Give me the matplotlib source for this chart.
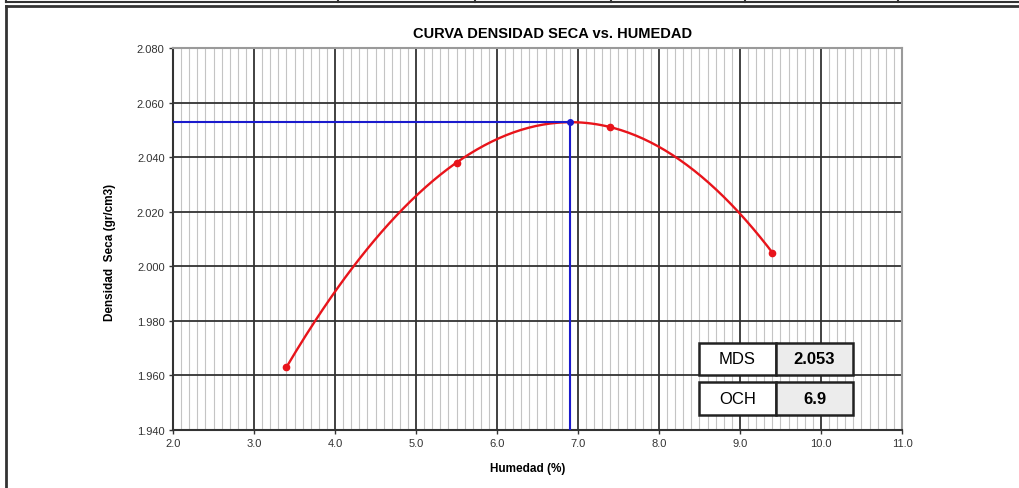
import numpy as np
import matplotlib
matplotlib.use("Agg")
import matplotlib.pyplot as plt
from matplotlib.patches import Rectangle
from matplotlib.lines import Line2D
from matplotlib.ticker import MultipleLocator

# compaction test points
humedad = [3.4, 5.5, 7.4, 9.4]
densidad = [1.963, 2.038, 2.051, 2.005]

# results
mds = 2.053
och = 6.9

x_ticks = [2.0, 3.0, 4.0, 5.0, 6.0, 7.0, 8.0, 9.0, 10.0, 11.0]
y_ticks = [1.940, 1.960, 1.980, 2.000, 2.020, 2.040, 2.060, 2.080]

W, H = 1020, 489
FONT = ["Liberation Sans", "DejaVu Sans"]


def fx(px):
    return px / W


def fy(py):
    return 1 - py / H


def main():
    fig = plt.figure(figsize=(W / 100, H / 100), dpi=100)
    ax = fig.add_axes([fx(173), fy(431), fx(902) - fx(173), fy(49) - fy(431)])

    ax.set_xlim(x_ticks[0], x_ticks[-1])
    ax.set_ylim(y_ticks[0], y_ticks[-1])
    ax.set_xticks(x_ticks)
    ax.set_yticks(y_ticks)
    ax.set_xticklabels([f"{v:.1f}" for v in x_ticks])
    ax.set_yticklabels([f"{v:.3f}" for v in y_ticks])
    ax.xaxis.set_minor_locator(MultipleLocator(0.1))
    ax.tick_params(which="major", length=3, width=1, color="#333333",
                   labelsize=8, labelcolor="#333333", pad=3)
    ax.tick_params(which="minor", length=0)
    for lab in ax.get_xticklabels() + ax.get_yticklabels():
        lab.set_family(FONT)

    ax.grid(which="major", color="#333333", lw=1.3)
    ax.grid(which="minor", axis="x", color="#c4c4c4", lw=0.8)
    ax.set_axisbelow(True)
    for s in ["left", "bottom"]:
        ax.spines[s].set_color("#333333")
        ax.spines[s].set_linewidth(1.5)
    for s in ["top", "right"]:
        ax.spines[s].set_color("#9a9a9a")
        ax.spines[s].set_linewidth(1.5)

    # curve through the points
    coef = np.polyfit(humedad, densidad, 3)
    xs = np.linspace(min(humedad), max(humedad), 200)
    ax.plot(xs, np.polyval(coef, xs), color="#e8141b", lw=1.7, zorder=3)
    ax.plot(humedad, densidad, "o", color="#e8141b", ms=4.5, zorder=4)

    # optimum lines
    ax.plot([x_ticks[0], och], [mds, mds], color="#1a1acc", lw=1.5, zorder=3)
    ax.plot([och, och], [mds, y_ticks[0]], color="#1a1acc", lw=1.5, zorder=3)
    ax.plot([och], [mds], "o", color="#1a1acc", ms=4, zorder=5)

    ax.set_title("CURVA DENSIDAD SECA vs. HUMEDAD", family=FONT,
                 fontweight="bold", fontsize=10.5, pad=8, x=0.52)
    ax.set_xlabel("Humedad (%)", family=FONT, fontweight="bold",
                  fontsize=8.5, labelpad=10)
    ax.xaxis.set_label_coords(0.487, -0.085)
    ax.set_ylabel("Densidad  Seca (gr/cm3)", family=FONT, fontweight="bold",
                  fontsize=8.5)
    ax.yaxis.set_label_coords(-0.078, 0.467)

    # result boxes
    rows = [("MDS", f"{mds:.3f}", 344, 376), ("OCH", f"{och:.1f}", 383, 416)]
    for name, val, top, bot in rows:
        for x0, x1, face, txt, wt in [(699, 776, "white", name, "normal"),
                                      (776, 853, "#ececec", val, "bold")]:
            fig.add_artist(Rectangle((fx(x0), fy(bot)), fx(x1) - fx(x0),
                                     fy(top) - fy(bot), facecolor=face,
                                     edgecolor="#222222", lw=1.8,
                                     transform=fig.transFigure, zorder=6))
            fig.text(fx((x0 + x1) / 2), fy((top + bot) / 2), txt,
                     family=FONT, fontsize=12, fontweight=wt,
                     ha="center", va="center", zorder=7)

    # outer frame and cut-off table row above
    fig.add_artist(Line2D([fx(6), fx(6)], [0, fy(7)], color="#333333", lw=2))
    fig.add_artist(Line2D([fx(6), 1], [fy(7), fy(7)], color="#333333", lw=2))
    fig.add_artist(Line2D([fx(6), 1], [fy(2.5), fy(2.5)], color="#333333", lw=1.5))
    for px in [6, 338, 475, 611, 745, 898]:
        fig.add_artist(Line2D([fx(px), fx(px)], [fy(2.5), 1], color="#333333", lw=1.5))

    fig.savefig("out.png", dpi=100)
    plt.close(fig)


if __name__ == "__main__":
    main()
